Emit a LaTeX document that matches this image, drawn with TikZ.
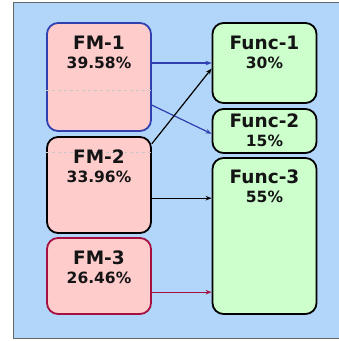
\documentclass[tikz,border=0pt]{standalone}
\usepackage{fontspec}
\setmainfont{DejaVu Sans}
\usetikzlibrary{arrows.meta}
\definecolor{panelblue}{RGB}{178,214,250}
\definecolor{fmpink}{RGB}{255,204,204}
\definecolor{funcgreen}{RGB}{204,255,204}
\definecolor{fmblue}{RGB}{48,64,176}
\definecolor{fmred}{RGB}{165,16,64}
\begin{document}
\begin{tikzpicture}[x=1pt,y=-1pt,
  box/.style={draw,line width=1.8pt,rounded corners=11pt,minimum width=104pt,inner sep=0pt},
  fmbox/.style={box,fill=fmpink},
  funcbox/.style={box,fill=funcgreen},
  ttl/.style={anchor=base,font=\fontsize{18.5}{20}\selectfont\bfseries,text=black!92},
  pct/.style={anchor=base,font=\fontsize{15.5}{17}\selectfont\bfseries,text=black!92},
  link/.style={line width=1.2pt,-{Stealth[length=6pt,width=4.5pt]}}]
\useasboundingbox (0,0) rectangle (339,341);
%\draw[gray] (0,0) rectangle (339,341);
\fill[panelblue] (13,2) rectangle (345,338);
\draw[gray!80!black,line width=0.8pt] (345,2)--(13,2)--(13,338)--(345,338);
% left boxes
\node[fmbox,draw=fmblue,minimum height=108pt] (fm1) at (99,77) {};
\node[fmbox,draw=black,minimum height=96pt] (fm2) at (99,185) {};
\node[fmbox,draw=fmred,minimum height=76pt] (fm3) at (99,276) {};
\draw[black!22,dashed,line width=0.8pt] (fm1.west |- 0,90)--(fm1.east |- 0,90);
\draw[black!22,dashed,line width=0.8pt] (fm2.west |- 0,152)--(fm2.east |- 0,152);
% right boxes
\node[funcbox,minimum height=80pt] (f1) at (264.5,63) {};
\node[funcbox,minimum height=44pt] (f2) at (264.5,131) {};
\node[funcbox,minimum height=156pt] (f3) at (264.5,236) {};
% labels
\node[ttl,yshift=-27pt] (fm1t) at (fm1.north) {FM-1};
\node[pct,yshift=-46pt] (fm1p) at (fm1.north) {39.58\%};
\node[ttl,yshift=-27pt] (fm2t) at (fm2.north) {FM-2};
\node[pct,yshift=-46pt] (fm2p) at (fm2.north) {33.96\%};
\node[ttl,yshift=-27pt] (fm3t) at (fm3.north) {FM-3};
\node[pct,yshift=-46pt] (fm3p) at (fm3.north) {26.46\%};
\node[ttl,yshift=-27pt] (f1t) at (f1.north) {Func-1};
\node[pct,yshift=-46pt] (f1p) at (f1.north) {30\%};
\node[ttl,yshift=-19pt] (f2t) at (f2.north) {Func-2};
\node[pct,yshift=-38pt] (f2p) at (f2.north) {15\%};
\node[ttl,yshift=-26pt] (f3t) at (f3.north) {Func-3};
\node[pct,yshift=-45pt] (f3p) at (f3.north) {55\%};
% arrows
\draw[link,fmblue] (fm1.east |- f1.west) -- (f1.west);
\draw[link,fmblue] (fm1.-28) -- (f2.183);
\draw[link,black] (fm2.38) -- (f1.186);
\draw[link,black] (fm2.-14) -- (fm2.-14 -| f3.west);
\draw[link,fmred] (fm3.-17) -- (fm3.-17 -| f3.west);
\end{tikzpicture}
\end{document}
